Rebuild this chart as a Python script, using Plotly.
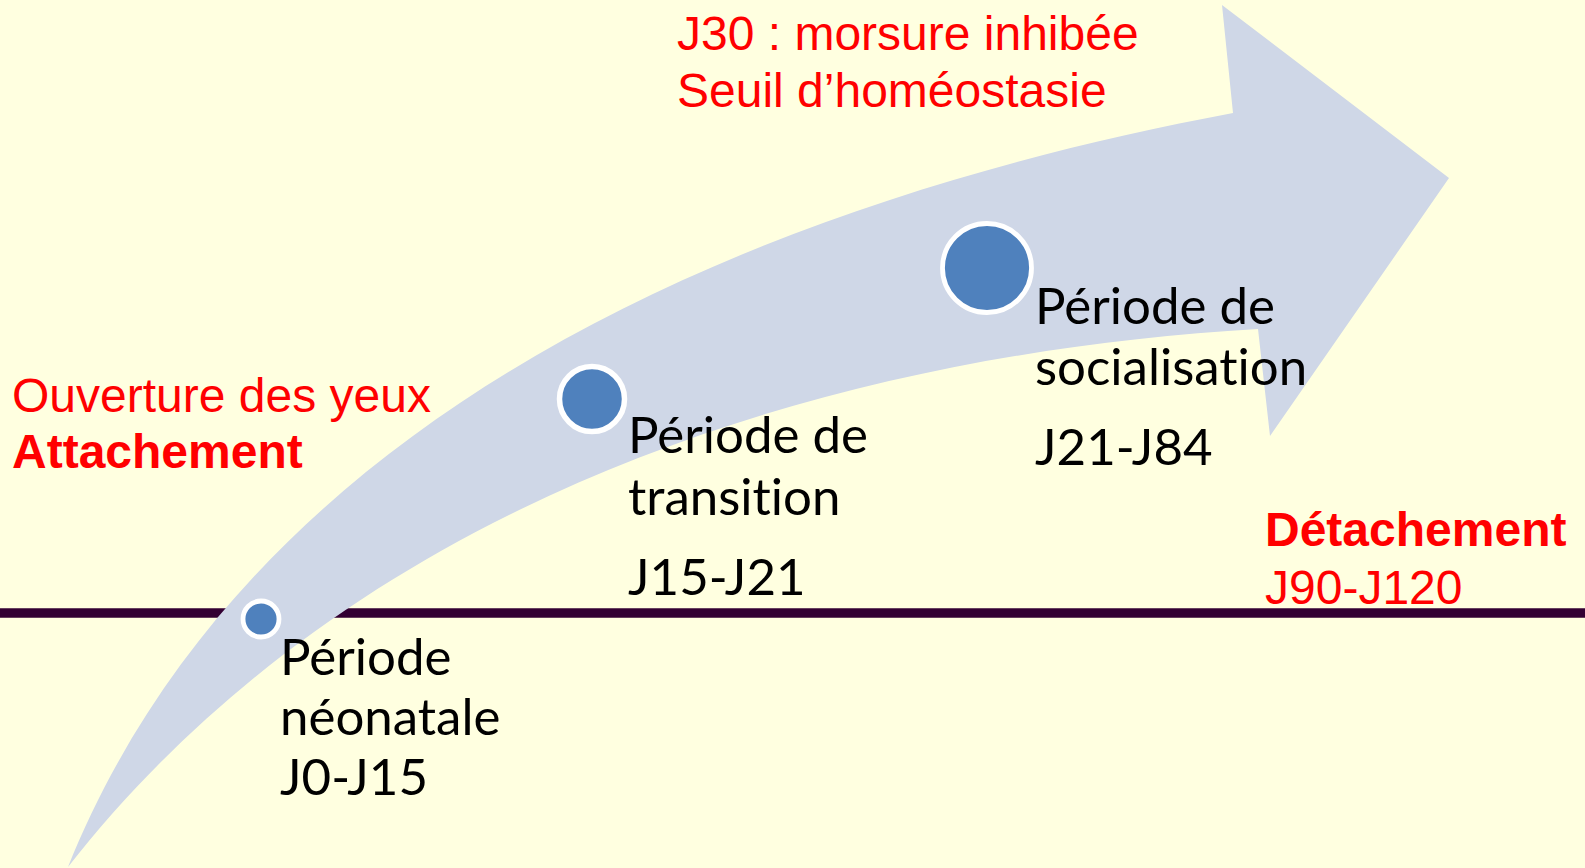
import numpy as np
import plotly.graph_objects as go

# ---------------- content ----------------
ZW = "\u200c"  # zero-width non-joiner: prevents the "ti" ligature of the font
stage_line1 = ["Période", "Période de", "Période de"]
stage_line2 = ["néonatale", "transit" + ZW + "ion", "socialisat" + ZW + "ion"]
stage_days = ["J0-J15", "J15-J21", "J21-J84"]

milestone_top = ["J30 : morsure inhibée", "Seuil d\u2019homéostasie"]
milestone_left = ["Ouverture des yeux", "Attachement"]
milestone_right = ["Détachement", "J90-J120"]

# ---------------- geometry (pixel coordinates, y downward) ----------------
W, H = 1585, 868
BG = "#FFFFE0"
ARROW = "#CFD7E7"
DOT = "#4F81BD"
RED = "#FF0000"

upper_edge = [(68, 867), (95, 806), (123, 747), (167, 680), (223, 610), (283, 553),
              (383, 462), (490, 380), (600, 320), (700, 272), (820, 223), (900, 197),
              (1000, 168), (1150, 130), (1233, 113)]
head = [(1222, 5), (1449, 178), (1270, 436)]
lower_edge = [(1258, 329), (1150, 337), (967, 363), (820, 402), (700, 434), (600, 472),
              (483, 533), (383, 585), (337, 610), (267, 663), (183, 747), (120, 813), (68, 867)]


def bezier_fit(pts):
    p = np.array(pts, dtype=float)
    d = np.r_[0, np.cumsum(np.hypot(*np.diff(p, axis=0).T))]
    t = d / d[-1]
    P0, P3 = p[0], p[-1]
    for _ in range(4):
        b1 = 3 * (1 - t) ** 2 * t
        b2 = 3 * (1 - t) * t ** 2
        R = p - np.outer((1 - t) ** 3, P0) - np.outer(t ** 3, P3)
        sol, *_ = np.linalg.lstsq(np.c_[b1, b2], R, rcond=None)
        P1, P2 = sol
        ts = np.linspace(0, 1, 2001)
        curve = (np.outer((1 - ts) ** 3, P0) + np.outer(3 * (1 - ts) ** 2 * ts, P1)
                 + np.outer(3 * (1 - ts) * ts ** 2, P2) + np.outer(ts ** 3, P3))
        dist = ((p[:, None, :] - curve[None, :, :]) ** 2).sum(-1)
        t = ts[dist.argmin(1)]
        t[0], t[-1] = 0.0, 1.0
    return P0, P1, P2, P3


def fmt(pt):
    return f"{pt[0]:.1f},{pt[1]:.1f}"


u0, u1, u2, u3 = bezier_fit(upper_edge)
l0, l1, l2, l3 = bezier_fit(lower_edge)
path = f"M {fmt(u0)} C {fmt(u1)} {fmt(u2)} {fmt(u3)}"
for pnt in head:
    path += f" L {fmt(pnt)}"
path += f" L {fmt(l0)} C {fmt(l1)} {fmt(l2)} {fmt(l3)} Z"

dot_x = [261, 592, 987]
dot_y = [619, 399, 268]
dot_size = [36, 65, 89]
dot_line = [4.8, 5.5, 4.8]

fig = go.Figure()

fig.add_trace(go.Scatter(
    x=dot_x, y=dot_y, mode="markers",
    marker=dict(size=dot_size, color=DOT, opacity=1,
                line=dict(color="white", width=dot_line)),
    hoverinfo="skip", showlegend=False,
))

shapes = [
    dict(type="line", x0=0, x1=W, y0=613, y1=613, xref="x", yref="y",
         line=dict(color="#330033", width=9.5), layer="below"),
    dict(type="path", path=path, xref="x", yref="y", fillcolor=ARROW,
         line=dict(width=0), layer="below"),
]

ann = []
RF = "Liberation Sans, Arial, sans-serif"
BF = "Lato, sans-serif"
RS = 48
BS = 51


def red(text, x, baseline, bold=False):
    t = f"<b>{text}</b>" if bold else text
    ann.append(dict(text=t, x=x, y=baseline - 0.35 * RS, xref="x", yref="y",
                    xanchor="left", yanchor="middle", showarrow=False,
                    font=dict(family=RF, size=RS, color=RED)))


def black(text, x, baseline):
    ann.append(dict(text=text, x=x, y=baseline - 0.39 * BS, xref="x", yref="y",
                    xanchor="left", yanchor="middle", showarrow=False,
                    font=dict(family=BF, size=BS, color="black")))


red(milestone_top[0], 675, 50)
red(milestone_top[1], 675, 107)
red(milestone_left[0], 10, 412)
red(milestone_left[1], 10, 468, bold=True)
red(milestone_right[0], 1263, 546, bold=True)
red(milestone_right[1], 1263, 604)

text_x = [278, 626, 1033]
base1 = [675, 453, 324]
base2 = [735, 515, 385]
base3 = [795, 595, 465]
for i in range(3):
    black(stage_line1[i], text_x[i], base1[i])
    black(stage_line2[i], text_x[i], base2[i])
    black(stage_days[i], text_x[i], base3[i])

fig.update_layout(
    width=W, height=H, margin=dict(l=0, r=0, t=0, b=0),
    paper_bgcolor=BG, plot_bgcolor=BG,
    xaxis=dict(range=[0, W], visible=False, fixedrange=True),
    yaxis=dict(range=[H, 0], visible=False, fixedrange=True),
    shapes=shapes, annotations=ann, showlegend=False,
)

fig.write_html("out.html", config={"displayModeBar": False},
               post_script="document.body.style.margin='0';")
